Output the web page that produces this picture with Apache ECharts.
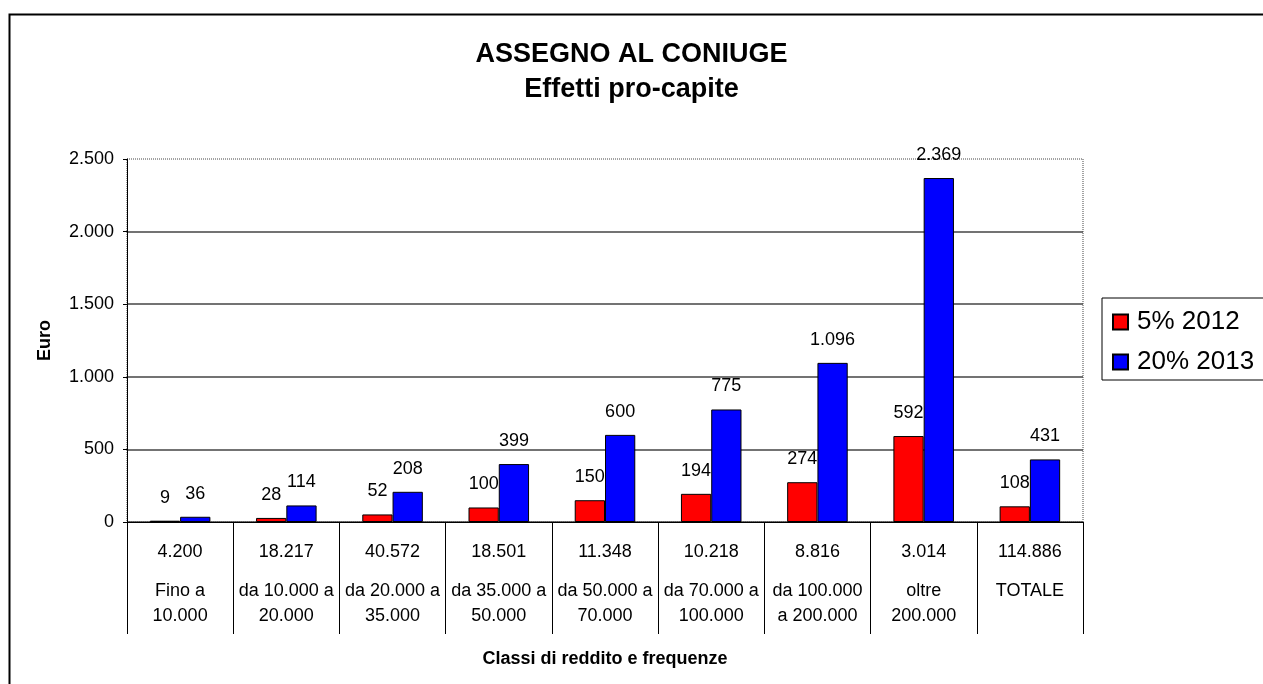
<!DOCTYPE html>
<html lang="it">
<head>
    <meta charset="UTF-8">
    <title>Assegno al coniuge</title>
    <script src="https://cdn.jsdelivr.net/npm/echarts@6/dist/echarts.min.js"></script>
    <style>
        html, body { margin: 0; padding: 0; background: #fff; }
        #box { width: 1263px; height: 684px; }
    </style>
</head>
<body>
<div id="box"></div>
<script>
    // dati
    var frequenze = ['4.200', '18.217', '40.572', '18.501', '11.348', '10.218', '8.816', '3.014', '114.886'];
    var classi = ['Fino a\n10.000', 'da 10.000 a\n20.000', 'da 20.000 a\n35.000', 'da 35.000 a\n50.000',
        'da 50.000 a\n70.000', 'da 70.000 a\n100.000', 'da 100.000\na 200.000', 'oltre\n200.000', 'TOTALE'];
    var serie2012 = [9, 28, 52, 100, 150, 194, 274, 592, 108];
    var serie2013 = [36, 114, 208, 399, 600, 775, 1096, 2369, 431];
    var yTicks = [0, 500, 1000, 1500, 2000, 2500];

    var FONT = 'Arial, "Liberation Sans", sans-serif';

    // separatore migliaia col punto
    function fmt(v) {
        return String(v).replace(/\B(?=(\d{3})+(?!\d))/g, '.');
    }

    var categorie = [];
    for (var i = 0; i < classi.length; i++) {
        categorie.push(frequenze[i] + '|' + classi[i]);
    }

    var myChart = echarts.init(document.getElementById('box'));

    var etichetta = {
        show: true,
        position: 'top',
        distance: 14,
        color: '#000',
        fontFamily: FONT,
        fontSize: 18,
        formatter: function (p) { return fmt(p.value); }
    };

    var option = {
        animation: false,
        backgroundColor: '#fff',
        textStyle: { fontFamily: FONT },
        graphic: [{
            type: 'rect',
            left: 7, top: 12,
            shape: { width: 1300, height: 700 },
            style: { fill: 'none', stroke: '#000', lineWidth: 2 },
            z: -1
        }],
        title: [{
            text: 'ASSEGNO AL CONIUGE',
            left: 'center', top: 36,
            textStyle: { fontFamily: FONT, fontSize: 27, fontWeight: 'bold', color: '#000' }
        }, {
            text: 'Effetti pro-capite',
            left: 'center', top: 71,
            textStyle: { fontFamily: FONT, fontSize: 27, fontWeight: 'bold', color: '#000' }
        }],
        legend: {
            orient: 'vertical',
            left: 1102, top: 298,
            padding: [11, 12, 5, 10],
            itemGap: 14,
            itemWidth: 15, itemHeight: 15,
            icon: 'rect',
            borderColor: '#000', borderWidth: 1,
            textStyle: { fontFamily: FONT, fontSize: 26, lineHeight: 26, color: '#000', padding: [0, 0, 0, 4] },
            data: ['5% 2012', '20% 2013']
        },
        grid: {
            left: 127, right: 180, top: 159, bottom: 162,
            show: true,
            borderColor: '#444', borderWidth: 1, borderType: 'dotted'
        },
        xAxis: {
            type: 'category',
            data: categorie,
            name: 'Classi di reddito e frequenze',
            nameLocation: 'middle',
            nameGap: 128,
            nameTextStyle: { fontFamily: FONT, fontSize: 18, fontWeight: 'bold', color: '#000' },
            axisLine: { lineStyle: { color: '#000', width: 1 } },
            axisTick: { show: true, length: 112, lineStyle: { color: '#000' } },
            axisLabel: {
                interval: 0,
                margin: 3,
                color: '#000',
                formatter: function (v) {
                    var parti = v.split('|');
                    var righe = parti[1].split('\n');
                    var s = '{a|' + parti[0] + '}';
                    for (var k = 0; k < righe.length; k++) {
                        s += '\n{b|' + righe[k] + '}';
                    }
                    return s;
                },
                rich: {
                    a: { fontFamily: FONT, fontSize: 18, lineHeight: 54, color: '#000' },
                    b: { fontFamily: FONT, fontSize: 18, lineHeight: 25, color: '#000' }
                }
            }
        },
        yAxis: {
            type: 'value',
            min: 0, max: 2500, interval: 500,
            name: 'Euro',
            nameLocation: 'middle',
            nameGap: 73,
            nameRotate: 90,
            nameTextStyle: { fontFamily: FONT, fontSize: 18, fontWeight: 'bold', color: '#000' },
            axisLine: { show: true, lineStyle: { color: '#000' } },
            axisTick: { show: true, length: 4, lineStyle: { color: '#000' } },
            axisLabel: {
                margin: 13,
                color: '#000',
                fontFamily: FONT,
                fontSize: 18,
                formatter: function (v) { return fmt(v); }
            },
            splitLine: {
                show: true,
                lineStyle: {
                    color: ['#444', '#444', '#444', '#444', '#444', 'rgba(0,0,0,0)'],
                    width: 1.5
                }
            }
        },
        series: [{
            name: '5% 2012',
            type: 'bar',
            data: serie2012,
            barGap: '0%',
            barCategoryGap: '43%',
            itemStyle: { color: '#ff0000', borderColor: '#000', borderWidth: 1 },
            label: etichetta
        }, {
            name: '20% 2013',
            type: 'bar',
            data: serie2013,
            barGap: '0%',
            barCategoryGap: '43%',
            itemStyle: { color: '#0000ff', borderColor: '#000', borderWidth: 1 },
            label: etichetta
        }]
    };

    myChart.setOption(option);
</script>
</body>
</html>
